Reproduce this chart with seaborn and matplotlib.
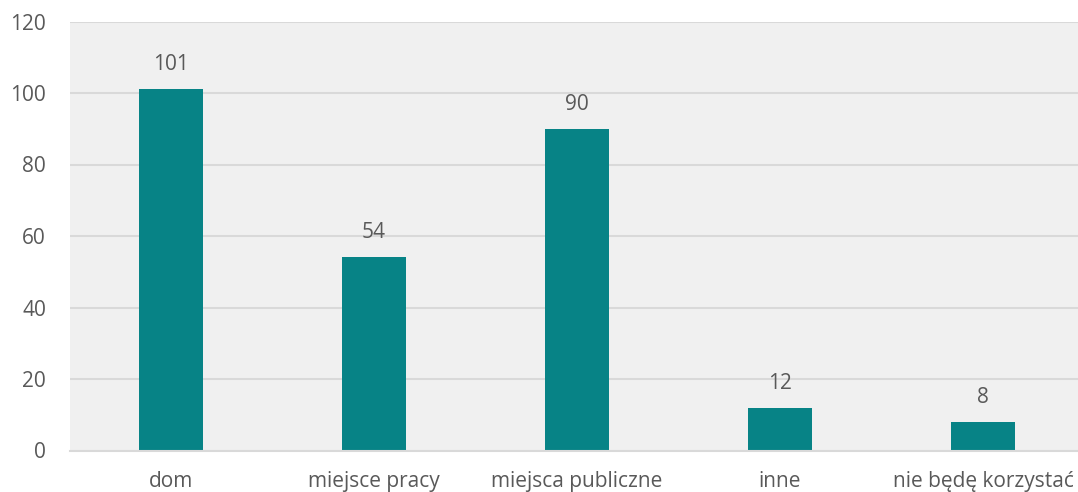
import matplotlib
matplotlib.use("Agg")
import matplotlib.pyplot as plt
import seaborn as sns
import pandas as pd

categories = ["dom", "miejsce pracy", "miejsca publiczne", "inne", "nie będę korzystać"]
values = [101, 54, 90, 12, 8]
y_ticks = [0, 20, 40, 60, 80, 100, 120]

bar_color = "#078386"
text_color = "#595959"
grid_color = "#d9d9d9"
bg_color = "#f0f0f0"

sns.set_theme(style="white")
plt.rcParams["font.family"] = ["Open Sans", "DejaVu Sans"]

df = pd.DataFrame({"kategoria": categories, "liczba": values})

W, H = 1078, 492
fig = plt.figure(figsize=(W / 100, H / 100), dpi=100)
# category band is 203 px wide; the last band runs slightly past the figure edge
ax = fig.add_axes([69.5 / W, 1 - 450.5 / H, 1015 / W, 429 / H])
ax.set_facecolor(bg_color)

sns.barplot(data=df, x="kategoria", y="liczba", color=bar_color, width=0.315,
            saturation=1, linewidth=0, edgecolor="none", ax=ax, zorder=3)

ax.set_ylim(0, 120)
ax.set_xlim(-0.5, len(categories) - 0.5)
ax.set_yticks(y_ticks)
ax.set_yticklabels([str(t) for t in y_ticks])
ax.yaxis.grid(True, color=grid_color, linewidth=1.5, zorder=0)
ax.set_axisbelow(True)

for s in ["top", "right", "left"]:
    ax.spines[s].set_visible(False)
ax.spines["bottom"].set_color(grid_color)
ax.spines["bottom"].set_linewidth(1.5)
ax.spines["bottom"].set_zorder(4)

fs = 15
ax.tick_params(axis="y", length=0, pad=17, labelsize=fs, labelcolor=text_color)
ax.tick_params(axis="x", length=0, pad=15, labelsize=fs, labelcolor=text_color)
ax.set_xlabel("")
ax.set_ylabel("")

for i, v in enumerate(values):
    ax.annotate(str(v), (i, v), xytext=(0, 14), textcoords="offset pixels",
                ha="center", va="bottom", fontsize=fs, color=text_color)

fig.savefig("out.png", dpi=100, facecolor="white")
